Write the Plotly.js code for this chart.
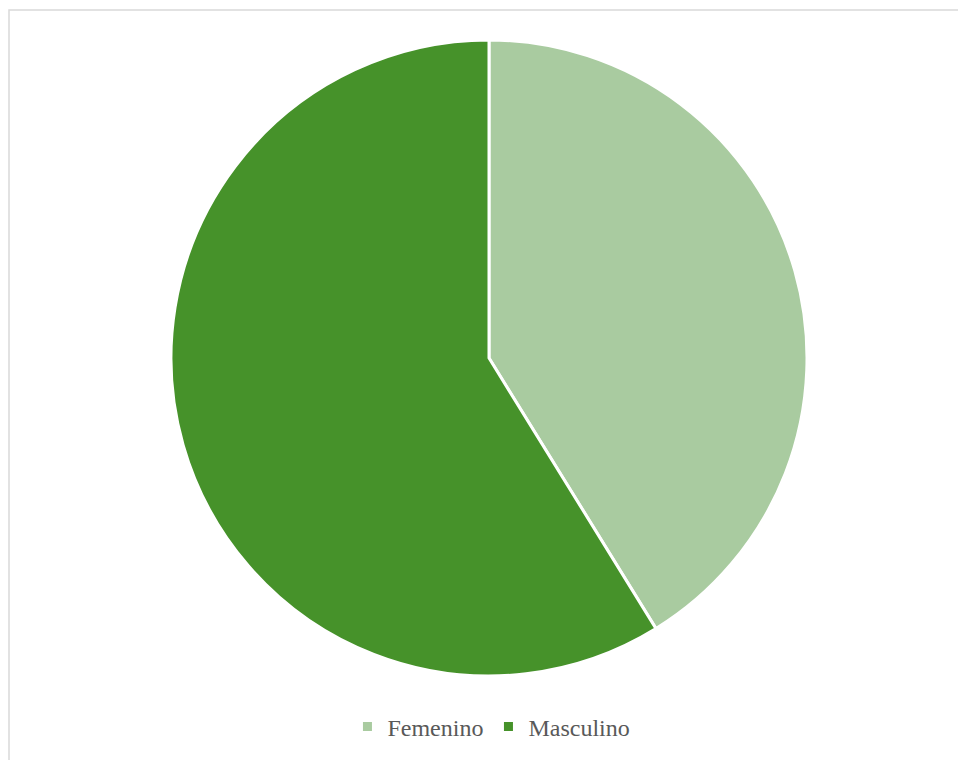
<!DOCTYPE html>
<html>
<head>
<meta charset="utf-8">
<script src="https://cdn.plot.ly/plotly-3.0.1.min.js"></script>
<style>html,body{margin:0;padding:0;background:#fff;}#chart{width:958px;height:760px;}</style>
</head>
<body>
<div id="chart"></div>
<script>
const categories = ["Femenino", "Masculino"];
const values = [41.2, 58.8];
const colors = ["#A9CBA0", "#46922A"];

const data = [{
  type: "pie",
  labels: categories,
  values: values,
  sort: false,
  direction: "clockwise",
  rotation: 0,
  textinfo: "none",
  hoverinfo: "label+percent",
  marker: {colors: colors, line: {color: "#FFFFFF", width: 3}},
  domain: {x: [171/958, 807/958], y: [1 - 676/760, 1 - 40/760]}
}];

const layout = {
  width: 958, height: 760,
  margin: {l: 0, r: 0, t: 0, b: 0},
  paper_bgcolor: "#FFFFFF",
  showlegend: true,
  legend: {
    orientation: "h",
    x: 0.513, xanchor: "center",
    y: 1 - 727/760, yanchor: "middle",
    font: {family: "Liberation Serif, Times New Roman, serif", size: 24, color: "#595959"},
    itemwidth: 30,
    traceorder: "normal"
  },
  shapes: [{
    type: "rect", xref: "paper", yref: "paper",
    x0: 9/958, x1: 1.05, y0: -0.05, y1: 1 - 10/760,
    line: {color: "#D9D9D9", width: 1.5}
  }]
};

Plotly.newPlot("chart", data, layout, {displayModeBar: false, staticPlot: true});
</script>
</body>
</html>
